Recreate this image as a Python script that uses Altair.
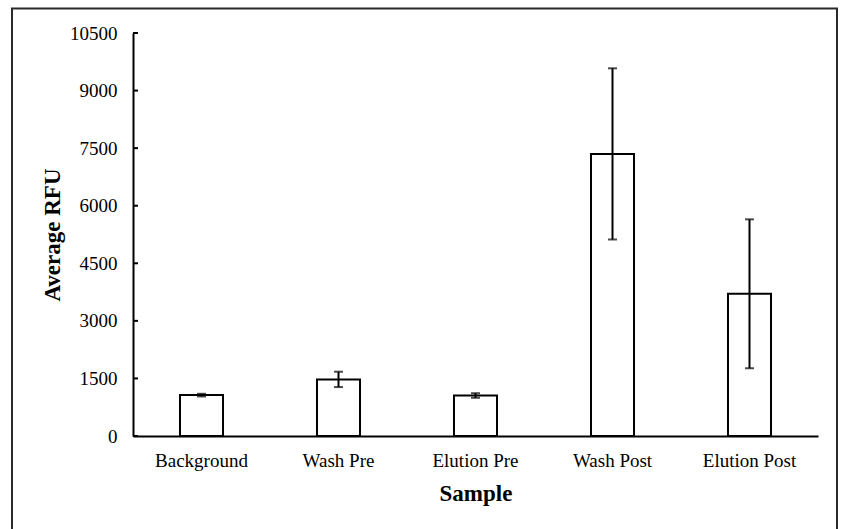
import altair as alt
import pandas as pd

categories = ["Background", "Wash Pre", "Elution Pre", "Wash Post", "Elution Post"]
means = [1065, 1475, 1055, 7350, 3705]
errors = [35, 200, 60, 2230, 1940]
y_ticks = [0, 1500, 3000, 4500, 6000, 7500, 9000, 10500]

df = pd.DataFrame({"Sample": categories, "mean": means, "err": errors})
df["lo"] = df["mean"] - df["err"]
df["hi"] = df["mean"] + df["err"]
ticks_df = pd.DataFrame({"t": y_ticks})

FONT = "Liberation Serif"

xscale = alt.Scale(domain=categories, paddingInner=0.686, paddingOuter=0.343)
yscale = alt.Scale(domain=[0, 10500], nice=False, zero=True)

x_enc = alt.X("Sample:N", scale=xscale, sort=categories,
              axis=alt.Axis(title="Sample", labelAngle=0, ticks=False,
                            labelPadding=15, titlePadding=12))
y_enc = alt.Y("mean:Q", scale=yscale,
              axis=alt.Axis(title="Average RFU", values=y_ticks, ticks=False, format="d",
                            labelPadding=16, titlePadding=5, grid=False))

bars = alt.Chart(df).mark_bar(fill="white", stroke="black", strokeWidth=2).encode(
    x=x_enc, y=y_enc
)

err_rule = alt.Chart(df).mark_rule(color="black", strokeWidth=2).encode(
    x=alt.X("Sample:N", scale=xscale, sort=categories),
    y=alt.Y("lo:Q", scale=yscale),
    y2="hi:Q",
)
cap_lo = alt.Chart(df).mark_tick(color="black", size=9, thickness=2, orient="horizontal").encode(
    x=alt.X("Sample:N", scale=xscale, sort=categories),
    y=alt.Y("lo:Q", scale=yscale),
)
cap_hi = alt.Chart(df).mark_tick(color="black", size=9, thickness=2, orient="horizontal").encode(
    x=alt.X("Sample:N", scale=xscale, sort=categories),
    y=alt.Y("hi:Q", scale=yscale),
)

inner_ticks = alt.Chart(ticks_df).mark_rule(color="black", strokeWidth=2).encode(
    y=alt.Y("t:Q", scale=yscale),
    x=alt.value(0),
    x2=alt.value(5),
)

frame = alt.Chart(pd.DataFrame({"a": [0]})).mark_rect(
    fill=None, stroke="#2a2a2a", strokeWidth=2, clip=False
).encode(
    x=alt.value(-121), x2=alt.value(704), y=alt.value(-24.5), y2=alt.value(520)
)

chart = alt.layer(frame, bars, err_rule, cap_lo, cap_hi, inner_ticks).properties(
    width=685, height=403,
    background="white",
    autosize=alt.AutoSizeParams(type="none"),
    padding={"left": 133, "top": 33, "right": 27, "bottom": 93},
).configure_view(stroke=None).configure_axis(
    labelFont=FONT, titleFont=FONT, labelFontSize=19, titleFontSize=23,
    labelColor="black", titleColor="black", titleFontWeight="bold",
    domainColor="black", domainWidth=2,
)

chart.save("out.html", embed_options={"renderer": "svg", "actions": False})
